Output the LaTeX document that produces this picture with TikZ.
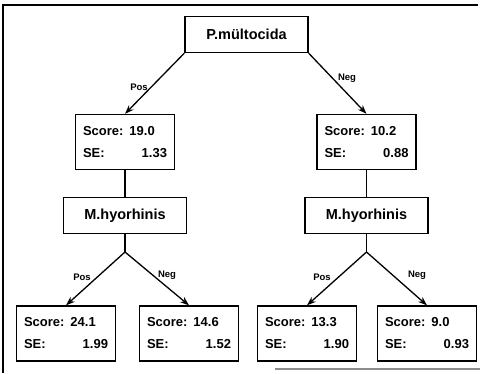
\documentclass[tikz,border=0pt]{standalone}
\usepackage{fontspec}
\setmainfont{Liberation Sans}
\usetikzlibrary{arrows.meta}

\begin{document}
\begin{tikzpicture}[x=1pt,y=-1pt,
	species/.style={draw,line width=1.3pt,minimum width=123pt,minimum height=36pt,font=\fontsize{14.5}{18}\selectfont\bfseries},
	result/.style={draw,line width=1.3pt,minimum width=99pt,minimum height=55pt,text width=84pt,inner xsep=5pt,align=left,font=\fontsize{13}{22}\selectfont\bfseries},
	branch/.style={line width=1.3pt,-{Stealth[length=9pt,width=6.5pt]}},
	stem/.style={line width=1.3pt},
	answer/.style={font=\fontsize{9.5}{9.5}\selectfont\bfseries}]
					\useasboundingbox (0,0) rectangle (480,373);
					\coordinate (t0) at (246.5,34.5);
					\coordinate (s1) at (125,142);
					\coordinate (s2) at (366.5,142);
					\coordinate (m1) at (125,215.5);
					\coordinate (m2) at (366.5,215.5);
					\coordinate (j1) at (125,252);
					\coordinate (j2) at (366.5,252);
					\coordinate (l1) at (66,333.5);
					\coordinate (l2) at (189,333.5);
					\coordinate (l3) at (307,333.5);
					\coordinate (l4) at (427,333.5);
					\coordinate (f1) at (3,373);
					\coordinate (f2) at (3,5);
					\coordinate (f3) at (478,5);
					\coordinate (g1) at (275,369);
					\coordinate (g2) at (480,369);
					
					% frame
					\draw[line width=1.2pt] (f1) -- (f2) -- (f3);
					\draw[line width=2.5pt,black!45] (g1) -- (g2);
					
					\node (root) at (t0) [species] {P.mültocida};
					\node (score1) at (s1) [result] {Score:\hspace{6pt}19.0\\SE:\hfill 1.33};
					\node (score2) at (s2) [result] {Score:\hspace{6pt}10.2\\SE:\hfill 0.88};
					\node (hyo1) at (m1) [species] {M.hyorhinis};
					\node (hyo2) at (m2) [species] {M.hyorhinis};
					\node (leaf1) at (l1) [result] {Score:\hspace{6pt}24.1\\SE:\hfill 1.99};
					\node (leaf2) at (l2) [result] {Score:\hspace{6pt}14.6\\SE:\hfill 1.52};
					\node (leaf3) at (l3) [result] {Score:\hspace{6pt}13.3\\SE:\hfill 1.90};
					\node (leaf4) at (l4) [result] {Score:\hspace{6pt}9.0\\SE:\hfill 0.93};
					
					\draw[branch] (root.south west) -- (score1.north);
					\draw[branch] (root.south east) -- (score2.north);
					\draw[stem] (score1.south) -- (hyo1.north);
					\draw[stem] (score2.south) -- (hyo2.north);
					\draw[stem] (hyo1.south) -- (j1);
					\draw[stem] (hyo2.south) -- (j2);
					\draw[branch] (j1) -- (leaf1.north);
					\draw[branch] (j1) -- (leaf2.north);
					\draw[branch] (j2) -- (leaf3.north);
					\draw[branch] (j2) -- (leaf4.north);
					
					\node (pos0) at (139,87) [answer] {Pos};
					\node (neg0) at (347,78) [answer] {Neg};
					\node (pos1) at (82,277) [answer] {Pos};
					\node (neg1) at (167,275) [answer] {Neg};
					\node (pos2) at (322,277) [answer] {Pos};
					\node (neg2) at (417,275) [answer] {Neg};
				\end{tikzpicture}
\end{document}
